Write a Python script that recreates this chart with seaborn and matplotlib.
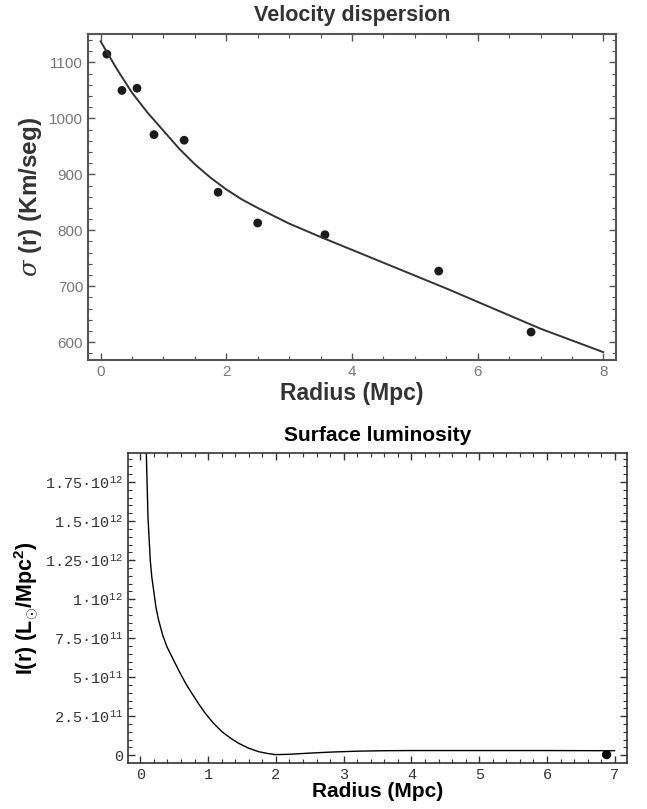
import numpy as np
import pandas as pd
import seaborn as sns
import matplotlib.pyplot as plt
from matplotlib.ticker import MultipleLocator, FixedLocator

# velocity dispersion data points
radius_pts = [0.10, 0.34, 0.58, 0.85, 1.33, 1.87, 2.50, 3.57, 5.38, 6.85]
sigma_pts = [1115, 1050, 1054, 971, 961, 868, 813, 792, 727, 618]

# fitted dispersion curve
radius_fit = [0.0, 0.25, 0.5, 0.75, 1.0, 1.25, 1.5, 1.75, 2.0, 2.25, 2.5, 3.0,
              3.5, 4.0, 4.5, 5.0, 5.5, 6.0, 6.5, 7.0, 7.5, 8.0]
sigma_fit = [1138, 1090, 1046, 1010, 978, 946, 918, 894, 873, 855, 840, 812,
             788, 765, 742, 719, 696, 672, 648, 624, 603, 582]

# surface luminosity curve (units of 1e12)
radius_lum = [0.085, 0.113, 0.147, 0.17, 0.196, 0.23, 0.27, 0.33, 0.393, 0.49,
              0.589, 0.67, 0.76, 0.86, 0.958, 1.08, 1.204, 1.33, 1.449, 1.6,
              1.744, 1.87, 1.99, 2.2, 2.43, 2.8, 3.2, 3.6, 4.0, 5.0, 6.0, 7.0]
lum_vals = [2.0, 1.528, 1.25, 1.14, 1.059, 0.95, 0.866, 0.77, 0.695, 0.61,
            0.525, 0.46, 0.397, 0.33, 0.269, 0.205, 0.151, 0.11, 0.077, 0.045,
            0.023, 0.012, 0.004, 0.006, 0.012, 0.020, 0.026, 0.029, 0.030,
            0.030, 0.030, 0.029]
radius_lum_pt = [6.88]
lum_pt = [0.004]

lum_ticks = [0, 0.25e12, 0.5e12, 0.75e12, 1.0e12, 1.25e12, 1.5e12, 1.75e12]
lum_ticklabels = ['0', '2.5·10$^{\\mathtt{11}}$', '5·10$^{\\mathtt{11}}$',
                  '7.5·10$^{\\mathtt{11}}$', '1·10$^{\\mathtt{12}}$',
                  '1.25·10$^{\\mathtt{12}}$', '1.5·10$^{\\mathtt{12}}$',
                  '1.75·10$^{\\mathtt{12}}$']

sns.set_theme(style="ticks")
plt.rcParams['font.family'] = ['Liberation Sans', 'DejaVu Sans']
plt.rcParams['mathtext.fontset'] = 'custom'
plt.rcParams['mathtext.rm'] = 'Liberation Sans'
plt.rcParams['mathtext.bf'] = 'Liberation Sans:bold'
plt.rcParams['mathtext.it'] = 'DejaVu Serif:italic'
plt.rcParams['mathtext.tt'] = 'Liberation Mono'

fig = plt.figure(figsize=(6.47, 8.09), dpi=100)
ax1 = fig.add_axes([0.136, 0.555, 0.816, 0.403])
ax2 = fig.add_axes([0.198, 0.057, 0.771, 0.383])

gray = '#555555'

# ---- top panel: velocity dispersion
fit_df = pd.DataFrame({'r': radius_fit, 's': sigma_fit})
pts_df = pd.DataFrame({'r': radius_pts, 's': sigma_pts})
sns.lineplot(data=fit_df, x='r', y='s', color='#333333', linewidth=1.4,
             estimator=None, sort=False, ax=ax1)
sns.scatterplot(data=pts_df, x='r', y='s', color='#1a1a1a', s=40,
                edgecolor='none', ax=ax1)
ax1.set_xlim(-0.2, 8.2)
ax1.set_ylim(568, 1151)
ax1.xaxis.set_major_locator(MultipleLocator(2))
ax1.xaxis.set_minor_locator(MultipleLocator(0.5))
ax1.yaxis.set_major_locator(MultipleLocator(100))
ax1.yaxis.set_minor_locator(MultipleLocator(20))
ax1.tick_params(which='both', direction='in', top=True, right=True,
                color=gray, labelcolor='#777777', labelsize=11)
ax1.tick_params(which='major', length=5, width=1)
ax1.tick_params(which='minor', length=3, width=0.8)
for sp in ax1.spines.values():
    sp.set_color(gray)
    sp.set_linewidth(1.5)
ax1.set_xlabel('Radius (Mpc)', fontsize=16.5, weight='bold', color='#333333', labelpad=2)
ax1.set_ylabel('$\\mathit{\\sigma}$ (r) (Km/seg)', fontsize=17.5, weight='bold',
               color='#333333', labelpad=4)
ax1.set_title('Velocity dispersion', fontsize=15.5, weight='bold', color='#333333', pad=9)

# ---- bottom panel: surface luminosity
lum_df = pd.DataFrame({'r': radius_lum, 'I': np.array(lum_vals) * 1e12})
lpt_df = pd.DataFrame({'r': radius_lum_pt, 'I': np.array(lum_pt) * 1e12})
sns.lineplot(data=lum_df, x='r', y='I', color='black', linewidth=1.0,
             estimator=None, sort=False, ax=ax2)
sns.scatterplot(data=lpt_df, x='r', y='I', color='black', s=45,
                edgecolor='none', ax=ax2)
ax2.set_xlim(-0.18, 7.18)
ax2.set_ylim(-0.049e12, 1.936e12)
ax2.xaxis.set_major_locator(MultipleLocator(1))
ax2.xaxis.set_minor_locator(MultipleLocator(0.2))
ax2.yaxis.set_major_locator(FixedLocator(lum_ticks))
ax2.yaxis.set_minor_locator(MultipleLocator(0.05e12))
ax2.set_yticklabels(lum_ticklabels)
ax2.tick_params(which='both', direction='in', top=True, right=True,
                color='#333333', labelcolor='#333333', labelsize=11)
ax2.tick_params(which='major', length=5, width=1)
ax2.tick_params(which='minor', length=3, width=0.8)
for lab in ax2.get_xticklabels() + ax2.get_yticklabels():
    lab.set_family('Liberation Mono')
for sp in ax2.spines.values():
    sp.set_color('#333333')
    sp.set_linewidth(1.2)
ax2.set_xlabel('Radius (Mpc)', fontsize=15, weight='bold', color='black', labelpad=0)
ax2.set_ylabel('I(r) (L$_{\\mathbf{\\odot}}$/Mpc$^{\\mathbf{2}}$)', fontsize=15.5,
               weight='bold', color='black', labelpad=3)
ax2.set_title('Surface luminosity', fontsize=15, weight='bold', color='black', pad=9)

fig.savefig('out.png', dpi=100)
